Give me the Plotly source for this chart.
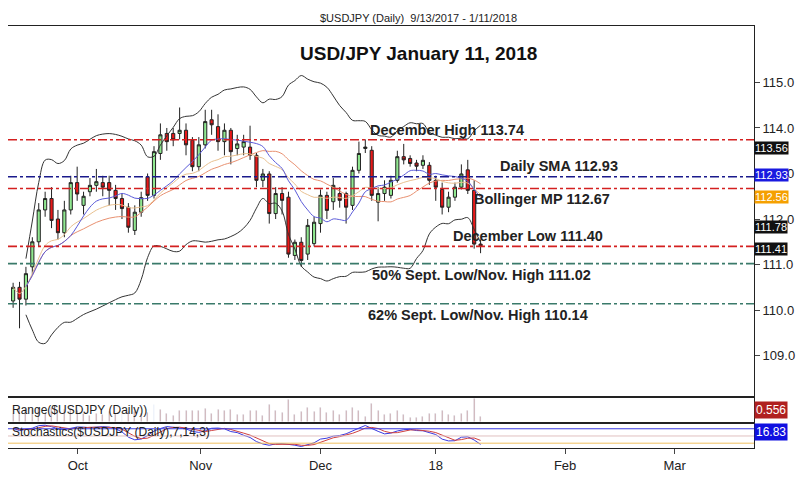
import pandas as pd
import plotly.graph_objects as go
from plotly.subplots import make_subplots

# trading days as day offsets from 9/13/2017
day = [0, 1, 4, 5, 8, 9, 11, 12, 13, 15, 16, 18, 19, 20, 22, 24, 27, 30, 31, 33,
       35, 37, 38, 40, 41, 43, 44, 46, 47, 48, 50, 51, 53, 55, 56, 58, 61, 62, 64, 65,
       66, 67, 69, 70, 72, 73, 74, 76, 77, 78, 80, 81, 82, 83, 85,
       88, 91, 92, 94, 95, 97, 99, 100, 102, 105, 106, 108, 110, 112, 113, 114, 116, 119, 120]
opn = [110.20, 110.50, 110.24, 110.95, 111.50, 112.20, 112.45, 112.00, 111.70, 112.20,
       112.80, 112.30, 112.60, 112.74, 112.80, 112.80, 112.63, 112.45, 112.26, 111.75,
       112.15, 112.93, 112.52, 113.44, 113.88, 113.88, 113.88, 113.95, 113.73, 113.15,
       113.63, 114.18, 114.03, 113.70, 113.95, 113.55, 113.58, 113.58, 113.40, 112.85,
       112.99, 112.12, 112.56, 112.48, 111.20, 111.49, 111.23, 111.46, 111.90, 112.52,
       112.38, 112.56, 112.56, 112.30, 113.07,
       113.55, 113.51, 112.37, 112.56, 112.52, 112.85, 113.37, 113.33, 113.23, 113.18,
       113.18, 112.85, 112.65, 112.26, 112.48, 112.70, 113.08, 112.63, 111.45]
cls = [110.50, 110.24, 110.80, 111.50, 112.20, 112.45, 111.97, 111.70, 112.20, 112.80,
       112.55, 112.50, 112.74, 112.82, 112.70, 112.63, 112.45, 112.23, 111.82, 112.15,
       112.47, 112.52, 113.48, 113.85, 113.70, 113.74, 113.95, 113.63, 113.15, 113.63,
       114.14, 114.07, 113.70, 113.95, 113.48, 113.65, 113.70, 113.40, 112.85, 112.99,
       112.12, 112.56, 112.41, 111.23, 111.49, 111.09, 111.86, 111.93, 112.52, 112.19,
       112.74, 112.41, 112.26, 113.07, 113.44,
       113.58, 112.52, 112.56, 112.70, 112.85, 113.37, 113.30, 113.22, 113.16, 113.29,
       112.85, 112.70, 112.26, 112.48, 112.70, 112.99, 112.63, 111.45, 111.41]
hig = [110.60, 110.62, 110.95, 111.60, 112.35, 112.60, 112.70, 112.20, 112.40, 112.95,
       113.15, 112.60, 112.90, 113.10, 112.95, 112.95, 112.75, 112.55, 112.35, 112.30,
       112.60, 113.00, 113.60, 114.10, 114.00, 114.00, 114.45, 114.10, 113.80, 113.80,
       114.40, 114.40, 114.30, 114.10, 114.00, 113.85, 113.85, 114.05, 113.45, 113.10,
       113.05, 112.70, 112.70, 112.60, 111.55, 111.60, 112.00, 112.05, 112.65, 112.60,
       112.90, 112.70, 112.60, 113.15, 113.70,
       113.75, 113.60, 112.70, 112.85, 112.95, 113.50, 113.65, 113.40, 113.30, 113.40,
       113.25, 112.95, 112.80, 112.60, 112.80, 113.20, 113.30, 112.85, 111.55]
low = [110.05, 109.60, 110.10, 110.80, 111.40, 112.05, 111.80, 111.55, 111.60, 112.10,
       112.40, 112.10, 112.50, 112.60, 112.50, 112.30, 112.20, 112.00, 111.70, 111.65,
       112.05, 112.40, 112.45, 113.30, 113.50, 113.60, 113.75, 113.40, 113.05, 113.05,
       113.55, 113.85, 113.50, 113.40, 113.20, 113.40, 113.40, 113.30, 112.70, 112.70,
       111.90, 112.00, 112.10, 111.15, 111.10, 110.95, 111.10, 111.40, 111.70, 112.00,
       112.20, 112.25, 111.90, 112.20, 113.00,
       113.45, 112.40, 111.95, 112.40, 112.45, 112.80, 113.20, 113.15, 113.05, 113.10,
       112.75, 112.40, 112.10, 112.15, 112.40, 112.65, 112.55, 111.35, 111.25]

month_ticks = ["Oct", "Nov", "Dec", "18", "Feb", "Mar"]
month_pos = [10.1, 29.3, 48.0, 66.0, 86.2, 103.3]  # bar-index positions of month starts

levels = [113.74, 112.93, 112.67, 111.40, 111.02, 110.14]
level_colors = ["#d42020", "#1a1a8c", "#d42020", "#d42020", "#3a7a6a", "#3a7a6a"]
level_text = ["December High 113.74", "Daily SMA 112.93", "Bollinger MP 112.67",
              "December Low 111.40", "50% Sept. Low/Nov. High 111.02",
              "62% Sept. Low/Nov. High 110.14"]
tags = [113.56, 112.93, 112.56, 111.78, 111.41]
tag_colors = ["#111111", "#1a1ae0", "#f5a000", "#111111", "#111111"]
tag_shift = [0, 2, -3, 2, -3]

df = pd.DataFrame({"o": opn, "h": hig, "l": low, "c": cls})
df["i"] = range(len(df))
mid = df.c.rolling(20, min_periods=3).mean()
sd = df.c.rolling(20, min_periods=3).std()
sma = df.c.rolling(10, min_periods=3).mean()
ema = df.c.ewm(span=20).mean()
rng = df.h - df.l
ll = df.l.rolling(14, min_periods=1).min()
hh = df.h.rolling(14, min_periods=1).max()
k = (100 * (df.c - ll) / (hh - ll)).rolling(3, min_periods=1).mean()
dline = k.rolling(3, min_periods=1).mean()

fig = make_subplots(rows=3, cols=1, shared_xaxes=True, vertical_spacing=0.005,
                    row_heights=[0.876, 0.057, 0.057])
fig.add_trace(go.Scatter(x=df.i, y=mid + 2.2 * sd, line=dict(color="#333", width=1, shape="spline")), 1, 1)
fig.add_trace(go.Scatter(x=df.i, y=mid - 2.2 * sd, line=dict(color="#333", width=1, shape="spline")), 1, 1)
fig.add_trace(go.Scatter(x=df.i, y=mid, line=dict(color="#e89070", width=1, shape="spline")), 1, 1)
fig.add_trace(go.Scatter(x=df.i, y=ema, line=dict(color="#e8c090", width=1, shape="spline")), 1, 1)
fig.add_trace(go.Scatter(x=df.i, y=sma, line=dict(color="#5a5ad8", width=1, shape="spline")), 1, 1)
fig.add_trace(go.Candlestick(x=df.i, open=df.o, high=df.h, low=df.l, close=df.c,
                             increasing=dict(line=dict(color="#222", width=1), fillcolor="#90e890"),
                             decreasing=dict(line=dict(color="#222", width=1), fillcolor="#e81818"),
                             whiskerwidth=0), 1, 1)
fig.add_trace(go.Bar(x=df.i, y=rng, marker_color="#b07070", width=0.15), 2, 1)
fig.add_trace(go.Scatter(x=df.i, y=k, line=dict(color="#3a3ae0", width=1)), 3, 1)
fig.add_trace(go.Scatter(x=df.i, y=dline, line=dict(color="#d04040", width=1)), 3, 1)

for lv, col in zip(levels, level_colors):
    fig.add_hline(y=lv, line=dict(color=col, width=1.6, dash="dashdot"), row=1, col=1)
for y, col in zip([20, 50, 80], ["#f0c060", "#e0c0c0", "#3a3ae0"]):
    fig.add_hline(y=y, line=dict(color=col, width=1), row=3, col=1)

# annotation text positions (paper x, price y)
tx = [0.588, 0.82, 0.81, 0.8, 0.635, 0.63]
ty = [113.95, 113.16, 112.45, 111.63, 110.77, 109.90]
for t, x, y in zip(level_text, tx, ty):
    fig.add_annotation(x=x, y=y, xref="paper", yref="y", text="<b>%s</b>" % t,
                       showarrow=False, font=dict(size=14.5, color="#222"))
for v, col, s in zip(tags, tag_colors, tag_shift):
    fig.add_annotation(x=1.0, y=v, xref="paper", yref="y", text="%.2f" % v, xanchor="left",
                       yshift=s, showarrow=False, bgcolor=col,
                       font=dict(size=11, color="white"), borderpad=0)
fig.add_annotation(x=1.0, y=0.1, xref="paper", yref="y2 domain", text="0.556", xanchor="left",
                   showarrow=False, bgcolor="#b02020", font=dict(size=12, color="white"), borderpad=1)
fig.add_annotation(x=1.0, y=0.3, xref="paper", yref="y3 domain", text="16.83", xanchor="left",
                   showarrow=False, bgcolor="#1010e0", font=dict(size=12, color="white"), borderpad=1)
fig.add_annotation(x=0.003, y=0.5, xref="paper", yref="y2 domain", text="Range($USDJPY (Daily))",
                   xanchor="left", showarrow=False, font=dict(size=12, color="#222"))
fig.add_annotation(x=0.003, y=0.3, xref="paper", yref="y3 domain",
                   text="Stochastics($USDJPY (Daily),7,14,3)", xanchor="left", showarrow=False,
                   font=dict(size=12, color="#222"))
fig.add_annotation(x=0.55, y=1.0, xref="paper", yref="paper", yanchor="bottom",
                   text="$USDJPY (Daily)  9/13/2017 - 1/11/2018", showarrow=False,
                   font=dict(size=11, color="#222"))
fig.add_annotation(x=0.55, y=0.965, xref="paper", yref="paper",
                   text="<b>USD/JPY January 11, 2018</b>", showarrow=False,
                   font=dict(size=19, color="#111"))

fig.update_layout(width=810, height=498, margin=dict(l=0, r=64, t=18, b=58),
                  showlegend=False, plot_bgcolor="white", paper_bgcolor="white", bargap=0,
                  font=dict(family="Liberation Sans, Arial", color="#222"))
fig.update_xaxes(range=[-0.8, 115.7], showgrid=False, showline=True,
                 linecolor="#222", mirror=True, rangeslider_visible=False)
fig.update_xaxes(tickvals=month_pos, ticktext=month_ticks, ticks="outside",
                 tickfont=dict(size=13), row=3, col=1)
fig.update_yaxes(showgrid=False, showline=True, linecolor="#222", mirror=True, side="right",
                 ticks="outside")
fig.update_yaxes(range=[108.12, 116.24], tickvals=[109, 110, 111, 112, 113, 114, 115],
                 tickformat=".1f", tickfont=dict(size=13), row=1, col=1)
fig.update_yaxes(showticklabels=False, ticks="", row=2, col=1)
fig.update_yaxes(showticklabels=False, ticks="", range=[0, 100], row=3, col=1)
fig.write_html("out.html")
